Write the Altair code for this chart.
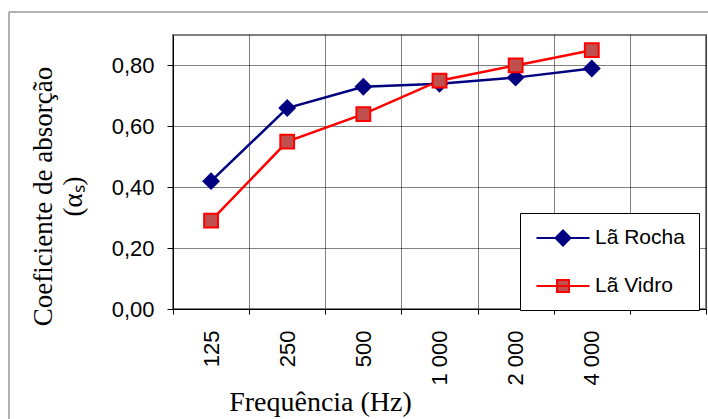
import altair as alt
import pandas as pd

# Octave-band centre frequencies, plus one empty slot at the right end of the axis
freqs = ["125", "250", "500", "1 000", "2 000", "4 000"]
slots = freqs + [" "]

series = ["Lã Rocha", "Lã Vidro"]
rocha = [0.42, 0.66, 0.73, 0.74, 0.76, 0.79]
vidro = [0.29, 0.55, 0.64, 0.75, 0.80, 0.85]

y_ticks = [0.0, 0.2, 0.4, 0.6, 0.8]

line_colors = ["#000080", "#FF0000"]
marker_fills = ["#000080", "#C0504D"]

rows = []
for f, r, v in zip(freqs, rocha, vidro):
    rows.append({"freq": f, "serie": series[0], "alpha": r})
    rows.append({"freq": f, "serie": series[1], "alpha": v})
df = pd.DataFrame(rows)

x_enc = alt.X(
    "freq:N",
    sort=slots,
    scale=alt.Scale(type="band", domain=slots, paddingInner=0, paddingOuter=0),
    axis=alt.Axis(
        title="Frequência (Hz)",
        labelAngle=-90,
        labelAlign="right",
        labelBaseline="middle",
        labelPadding=16,
        labelFont="Liberation Sans",
        labelFontSize=22,
        labelColor="black",
        tickSize=5,
        tickColor="black",
        tickBand="extent",
        domainColor="black",
        grid=True,
        gridColor="#000000",
        gridDash=[1, 1],
        titleFont="Liberation Serif",
        titleFontSize=28,
        titleFontWeight="normal",
        titleColor="black",
        titleX=147,
        titleY=101,
        titleAlign="center",
        titleBaseline="alphabetic",
    ),
)

y_enc = alt.Y(
    "alpha:Q",
    scale=alt.Scale(domain=[0, 0.9], nice=False),
    axis=alt.Axis(
        title=["Coeficiente de absorção", "(αₛ)"],
        values=y_ticks,
        labelExpr="replace(format(datum.value, '.2f'), '.', ',')",
        labelFont="Liberation Sans",
        labelFontSize=22,
        labelColor="black",
        labelPadding=13,
        tickSize=6,
        tickColor="black",
        domainColor="black",
        grid=True,
        gridColor="#000000",
        gridDash=[1, 1],
        titleFont="Liberation Serif",
        titleFontSize=27,
        titleFontWeight="normal",
        titleColor="black",
        titleLineHeight=30,
        titleX=-130,
        titleY=161,
        titleAlign="center",
        titleBaseline="middle",
    ),
)

base = alt.Chart(df)

# Thin frame around the whole chart
frame = alt.Chart(pd.DataFrame({"k": [0]})).mark_rect(
    filled=False, stroke="#666666", strokeWidth=1
).encode(
    x=alt.value(-164), x2=alt.value(600), y=alt.value(-23), y2=alt.value(450)
)

line_rocha = base.transform_filter(alt.datum.serie == series[0]).mark_line(
    strokeWidth=2.5, color=line_colors[0]
).encode(x=x_enc, y=y_enc)

line_vidro = base.transform_filter(alt.datum.serie == series[1]).mark_line(
    strokeWidth=2.5, color=line_colors[1]
).encode(x=x_enc, y=y_enc)

pts_rocha = base.transform_filter(alt.datum.serie == series[0]).mark_point(
    shape="diamond", filled=True, size=320, color=line_colors[0], opacity=1
).encode(x=x_enc, y=y_enc)

pts_vidro = base.transform_filter(alt.datum.serie == series[1]).mark_point(
    shape="square", filled=True, size=190, fill=marker_fills[1], stroke=line_colors[1],
    strokeWidth=2, opacity=1
).encode(x=x_enc, y=y_enc)

# Legend glyphs: a line segment with the series marker in the middle
glyph_rocha = "M-0.85,0H4.45M1.8,-0.75L2.55,0L1.8,0.75L1.05,0Z"
glyph_vidro = "M-0.85,0H4.45M1.2,-0.6H2.4V0.6H1.2Z"

series_legend = alt.Legend(
    title=None,
    orient="none",
    legendX=347,
    legendY=178,
    padding=14,
    rowPadding=25,
    labelOffset=39,
    symbolSize=400,
    symbolStrokeWidth=2,
    labelFont="Liberation Sans",
    labelFontSize=21,
    labelColor="black",
    strokeColor="black",
    fillColor="white",
)

# Legend-only layer: no rows reach it, the legend is built from the scale domains
legend_layer = base.transform_filter("false").mark_point(
    filled=True, strokeWidth=2, opacity=1
).encode(
    x=x_enc,
    y=y_enc,
    shape=alt.Shape("serie:N", scale=alt.Scale(domain=series, range=[glyph_rocha, glyph_vidro]),
                    legend=series_legend),
    fill=alt.Fill("serie:N", scale=alt.Scale(domain=series, range=marker_fills),
                  legend=series_legend),
    stroke=alt.Stroke("serie:N", scale=alt.Scale(domain=series, range=line_colors),
                      legend=series_legend),
)

chart = alt.layer(
    frame, line_rocha, line_vidro, pts_rocha, pts_vidro, legend_layer
).properties(
    width=533,
    height=274,
    autosize=alt.AutoSizeParams(type="none"),
    padding={"left": 173, "top": 35, "right": 2, "bottom": 110},
    background="white",
).configure_view(
    stroke="#808080", strokeWidth=2
)

chart.save("out.html", embed_options={"renderer": "svg", "actions": False})
